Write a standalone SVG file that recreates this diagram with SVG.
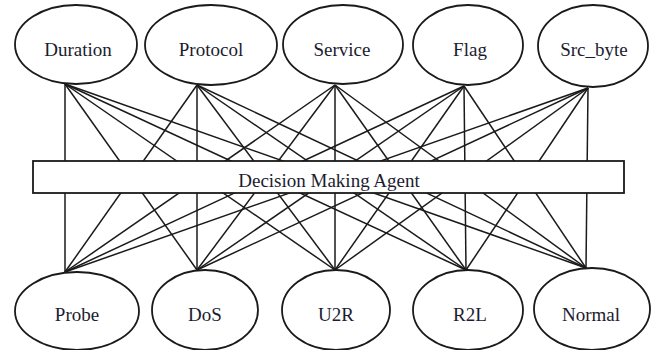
<svg xmlns="http://www.w3.org/2000/svg" width="656" height="350" viewBox="0 0 656 350">
<style>
.n ellipse{fill:#fff;stroke:#1a1a1a;stroke-width:1.8}
.n rect{fill:#fff;stroke:#1a1a1a;stroke-width:1.8}
.n text{font-family:"Liberation Serif","Times New Roman",serif;font-size:19px;fill:#1c1c30;text-anchor:middle}
#edges line{stroke:#1a1a1a;stroke-width:1.5}
</style>
<rect width="656" height="350" fill="#fff"/>
<g id="edges">
<line x1="65" y1="84" x2="65" y2="272"/><line x1="65" y1="84" x2="197" y2="270"/><line x1="65" y1="84" x2="335" y2="270"/><line x1="65" y1="84" x2="466" y2="270"/><line x1="65" y1="84" x2="586" y2="268"/>
<line x1="197" y1="85" x2="65" y2="272"/><line x1="197" y1="85" x2="197" y2="270"/><line x1="197" y1="85" x2="335" y2="270"/><line x1="197" y1="85" x2="466" y2="270"/><line x1="197" y1="85" x2="586" y2="268"/>
<line x1="335" y1="85" x2="65" y2="272"/><line x1="335" y1="85" x2="197" y2="270"/><line x1="335" y1="85" x2="335" y2="270"/><line x1="335" y1="85" x2="466" y2="270"/><line x1="335" y1="85" x2="586" y2="268"/>
<line x1="464" y1="86" x2="65" y2="272"/><line x1="464" y1="86" x2="197" y2="270"/><line x1="464" y1="86" x2="335" y2="270"/><line x1="464" y1="86" x2="466" y2="270"/><line x1="464" y1="86" x2="586" y2="268"/>
<line x1="588" y1="88" x2="65" y2="272"/><line x1="588" y1="88" x2="197" y2="270"/><line x1="588" y1="88" x2="335" y2="270"/><line x1="588" y1="88" x2="466" y2="270"/><line x1="588" y1="88" x2="586" y2="268"/>
</g>
<g id="duration" class="n"><ellipse cx="76" cy="44.5" rx="61" ry="39.5"/><text x="78" y="56">Duration</text></g>
<g id="protocol" class="n"><ellipse cx="211" cy="45" rx="66" ry="40"/><text x="211" y="56">Protocol</text></g>
<g id="service" class="n"><ellipse cx="343" cy="44.5" rx="60" ry="39.5"/><text x="342" y="56">Service</text></g>
<g id="flag" class="n"><ellipse cx="468" cy="45" rx="55" ry="40"/><text x="470" y="56">Flag</text></g>
<g id="src_byte" class="n"><ellipse cx="593" cy="46" rx="55" ry="41"/><text x="594" y="56">Src_byte</text></g>
<g id="agent" class="n"><rect x="33" y="161" width="591" height="32"/><text x="329" y="187">Decision Making Agent</text></g>
<g id="probe" class="n"><ellipse cx="77" cy="311" rx="62" ry="39"/><text x="77" y="321">Probe</text></g>
<g id="dos" class="n"><ellipse cx="205" cy="310" rx="53" ry="40"/><text x="205" y="321">DoS</text></g>
<g id="u2r" class="n"><ellipse cx="336" cy="310" rx="54" ry="40"/><text x="336" y="321">U2R</text></g>
<g id="r2l" class="n"><ellipse cx="468" cy="310" rx="55" ry="40"/><text x="470" y="321">R2L</text></g>
<g id="normal" class="n"><ellipse cx="592" cy="309" rx="58" ry="41"/><text x="591" y="321">Normal</text></g>
</svg>
